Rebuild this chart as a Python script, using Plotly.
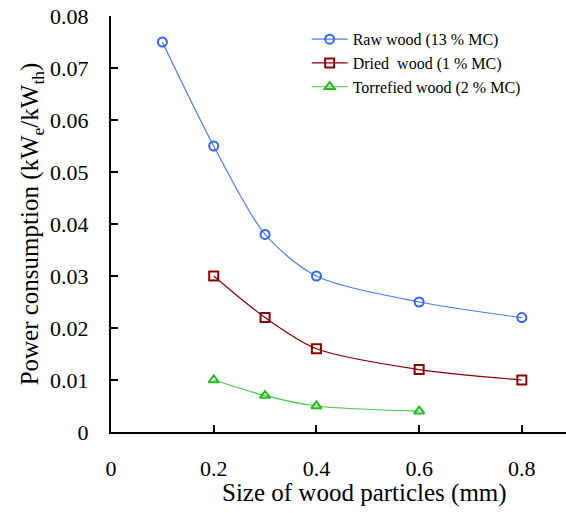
import plotly.graph_objects as go

raw_x = [0.1, 0.2, 0.3, 0.4, 0.6, 0.8]
raw_y = [0.075, 0.055, 0.038, 0.030, 0.025, 0.022]
dried_x = [0.2, 0.3, 0.4, 0.6, 0.8]
dried_y = [0.030, 0.022, 0.016, 0.012, 0.010]
torr_x = [0.2, 0.3, 0.4, 0.6]
torr_y = [0.010, 0.007, 0.005, 0.004]

x_ticks = [0, 0.2, 0.4, 0.6, 0.8]
x_ticklabels = ["0", "0.2", "0.4", "0.6", "0.8"]
y_ticks = [0, 0.01, 0.02, 0.03, 0.04, 0.05, 0.06, 0.07, 0.08]
y_ticklabels = ["0", "0.01", "0.02", "0.03", "0.04", "0.05", "0.06", "0.07", "0.08"]

FONT = "Liberation Serif"

fig = go.Figure()
fig.add_trace(go.Scatter(
    x=raw_x, y=raw_y, name="Raw wood (13 % MC)", mode="lines+markers",
    line=dict(color="#4d7cff", width=1.2, shape="spline", smoothing=0.8),
    marker=dict(symbol="circle-open", size=9, color="#3366ff", line=dict(width=2, color="#3366ff")),
))
fig.add_trace(go.Scatter(
    x=dried_x, y=dried_y, name="Dried  wood (1 % MC)", mode="lines+markers",
    line=dict(color="#8b0000", width=1.2, shape="spline", smoothing=0.8),
    marker=dict(symbol="square-open", size=9, color="#8b0000", line=dict(width=2, color="#8b0000")),
))
fig.add_trace(go.Scatter(
    x=torr_x, y=torr_y, name="Torrefied wood (2 % MC)", mode="lines+markers",
    line=dict(color="#44cc44", width=1.2, shape="spline", smoothing=0.8),
    marker=dict(symbol="triangle-up-open", size=9, color="#22bb22", line=dict(width=2, color="#22bb22")),
))

fig.add_annotation(
    text="Size of wood particles (mm)", xref="paper", yref="paper",
    x=0.558, y=0, xanchor="center", yanchor="middle", yshift=-61,
    showarrow=False, font=dict(family=FONT, size=25, color="black"),
)

fig.update_layout(
    width=566, height=513,
    margin=dict(l=111, r=0, t=16, b=81, autoexpand=False),
    paper_bgcolor="white", plot_bgcolor="white",
    font=dict(family=FONT, color="black", size=22),
    showlegend=True,
    legend=dict(x=0.43, y=0.985, xanchor="left", yanchor="top",
                font=dict(family=FONT, size=16), bgcolor="rgba(0,0,0,0)",
                tracegroupgap=0, itemwidth=36),
    xaxis=dict(
        range=[0, 0.886], tickvals=x_ticks, ticktext=x_ticklabels,
        showline=True, linecolor="black", linewidth=2,
        ticks="inside", ticklen=7, tickwidth=1.5, tickcolor="black",
        showgrid=False, zeroline=False, ticklabelstandoff=16, automargin=False,
        tickfont=dict(family=FONT, size=22),
    ),
    yaxis=dict(
        range=[0, 0.08], tickvals=y_ticks, ticktext=y_ticklabels,
        showline=True, linecolor="black", linewidth=2,
        ticks="inside", ticklen=7, tickwidth=1.5, tickcolor="black",
        showgrid=False, zeroline=False, ticklabelstandoff=16, automargin=False,
        title=dict(text="Power consumption (kW<sub>e</sub>/kW<sub>th</sub>)", font=dict(family=FONT, size=25), standoff=4),
        tickfont=dict(family=FONT, size=22),
    ),
)

fig.write_html("out.html", config={"displayModeBar": False},
               post_script="document.body.style.margin='0';")
